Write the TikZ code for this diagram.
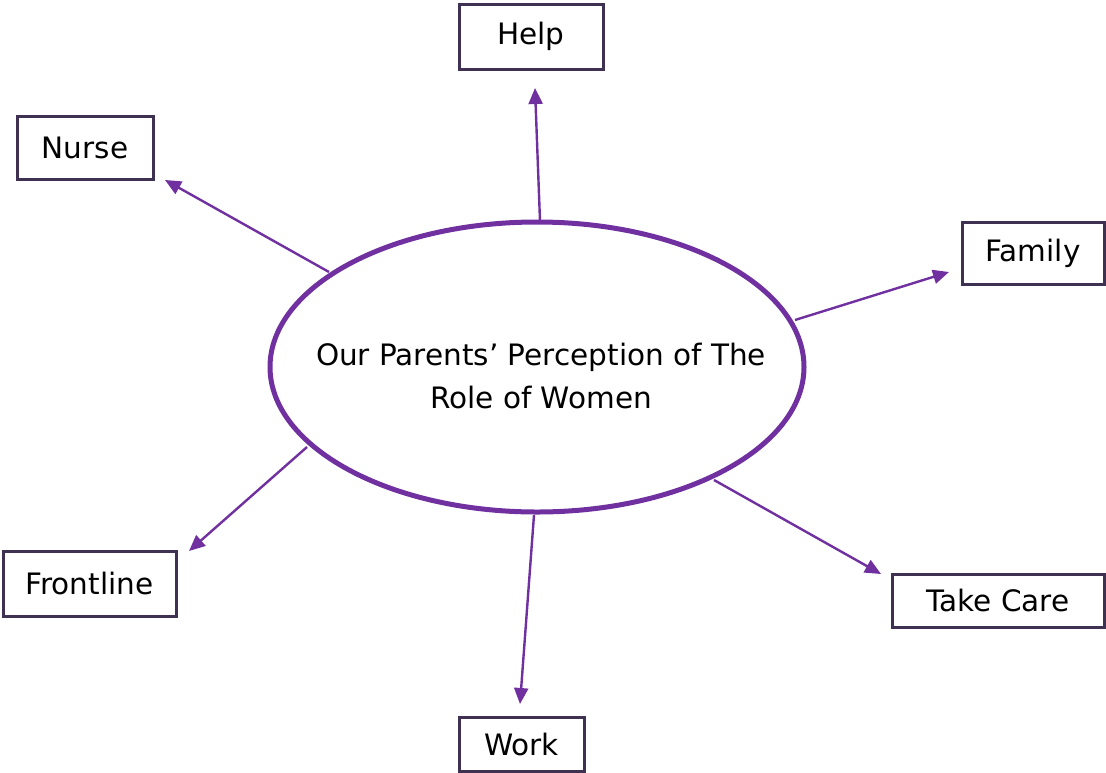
\documentclass[tikz,border=0pt]{standalone}
\usepackage{fontspec}
\setmainfont{DejaVu Sans}
\usetikzlibrary{shapes.geometric,arrows.meta}
\definecolor{ellpurple}{HTML}{7030A0}
\definecolor{boxpurple}{HTML}{3F3151}
\begin{document}
\begin{tikzpicture}[x=1pt,y=-1pt,
  term/.style={draw=boxpurple,line width=3pt,fill=white,inner sep=0pt,font=\fontsize{29.5}{34}\selectfont},
  conn/.style={draw=ellpurple,line width=2.4pt,-{Triangle[length=16pt,width=14pt]}}]
\useasboundingbox (0,0) rectangle (1106,772);
\node[ellipse,draw=ellpurple,line width=5pt,minimum width=534pt,minimum height=290pt,inner sep=0pt] (e) at (537,367) {};
\node[align=center,font=\fontsize{29.5}{43}\selectfont,inner sep=0pt] (etext) at (541,376)
  {Our Parents’ Perception of The\\Role of Women};
\node[term,minimum width=144pt,minimum height=65pt] (help) at (531,36.5) {Help};
\node[term,minimum width=136pt,minimum height=63pt] (nurse) at (85,147.5) {Nurse};
\node[term,minimum width=142pt,minimum height=62pt] (family) at (1033,253) {Family};
\node[term,minimum width=173pt,minimum height=65pt] (front) at (89.5,583.5) {Frontline};
\node[term,minimum width=212pt,minimum height=53pt] (take) at (998,600.5) {Take Care};
\node[term,minimum width=125pt,minimum height=54pt] (work) at (521.5,744) {Work};
\coordinate (hs) at (540,221); \coordinate (he) at (535,88);
\coordinate (ns) at (329,272); \coordinate (ne) at (165,180);
\coordinate (fs) at (795,320); \coordinate (fe) at (949,272);
\coordinate (rs) at (307,447); \coordinate (re) at (189,551);
\coordinate (ts) at (714,480); \coordinate (te) at (881,574);
\coordinate (ws) at (534,515); \coordinate (we) at (520,704);
\draw[conn] (hs) -- (he);
\draw[conn] (ns) -- (ne);
\draw[conn] (fs) -- (fe);
\draw[conn] (rs) -- (re);
\draw[conn] (ts) -- (te);
\draw[conn] (ws) -- (we);
\end{tikzpicture}
\end{document}
